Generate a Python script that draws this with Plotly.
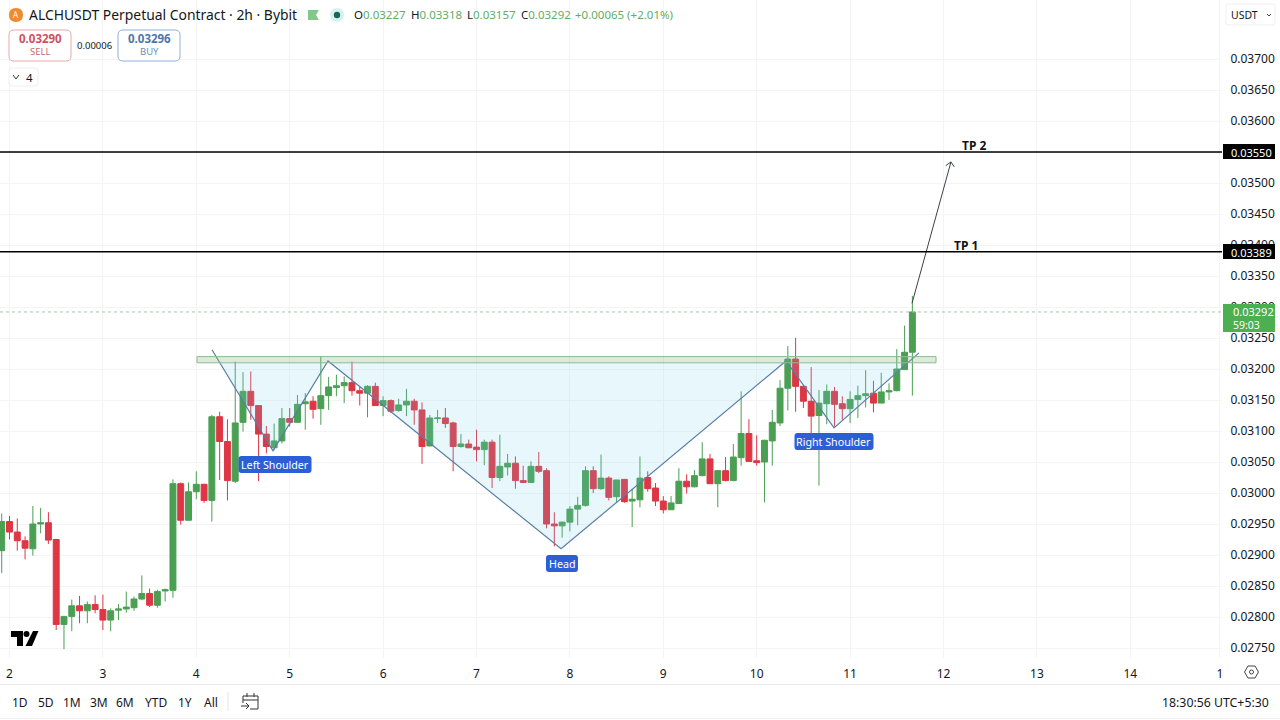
import plotly.graph_objects as go

# ---------- data (prices in exchange ticks of 0.00001 USDT) ----------
TICK = 0.00001
first_candle_day = 1 + 22 / 24
candle_step_days = 2 / 24
opens = [2907,2954,2937,2923,2910,2950,2952,2925,2788,2801,
         2818,2810,2820,2812,2795,2811,2813,2815,2829,2838,
         2819,2842,2843,3015,2956,3002,3014,2988,3123,3083,
         3019,3114,3164,3141,3095,3073,3084,3120,3114,3144,
         3148,3136,3157,3170,3173,3178,3165,3161,3172,3141,
         3149,3133,3142,3148,3134,3076,3120,3121,3113,3075,
         3079,3074,3070,3082,3025,3042,3048,3020,3017,3043,
         3036,2950,2947,2953,2974,2980,3036,3007,3024,2994,
         3022,2987,2989,3025,3008,2987,2973,2983,3019,3010,
         3028,3055,3015,3036,3020,3057,3096,3052,3050,3084,
         3113,3169,3216,3172,3148,3125,3144,3164,3144,3136,
         3151,3157,3161,3145,3163,3165,3199,3227]
highs = [2967,2963,2959,2930,2979,2976,2969,2926,2801,2828,
         2834,2825,2835,2836,2814,2821,2841,2833,2867,2846,
         2844,2846,3022,3017,3017,3035,3015,3126,3131,3119,
         3212,3195,3196,3141,3108,3112,3137,3137,3158,3161,
         3156,3220,3187,3191,3188,3212,3172,3174,3178,3156,
         3151,3152,3168,3152,3146,3126,3134,3137,3115,3095,
         3086,3102,3086,3086,3094,3063,3059,3044,3051,3066,
         3040,2969,2954,2979,2994,3043,3043,3062,3027,3021,
         3022,3007,3059,3035,3016,2995,2995,3040,3030,3037,
         3082,3063,3037,3058,3079,3164,3119,3093,3086,3134,
         3182,3237,3250,3174,3203,3166,3175,3171,3156,3164,
         3173,3198,3181,3194,3177,3232,3270,3318]
lows = [2871,2925,2907,2893,2899,2935,2918,2779,2748,2777,
        2790,2790,2806,2779,2777,2795,2807,2810,2827,2816,
        2815,2825,2831,2949,2956,2990,2984,2954,3021,2988,
        3016,3099,3118,3019,3064,3069,3080,3107,3113,3102,
        3120,3110,3134,3156,3145,3157,3141,3122,3141,3124,
        3129,3131,3124,3110,3047,3075,3113,3105,3035,3073,
        3072,3051,3045,3008,3019,3028,3007,3016,3016,3032,
        2943,2914,2928,2938,2948,2978,3000,3005,2988,2984,
        2984,2945,2977,3002,2979,2967,2973,2983,2999,3009,
        3027,3015,2977,3019,3019,3044,3051,3044,2985,3044,
        3108,3133,3131,3137,3096,3012,3111,3107,3118,3113,
        3121,3138,3130,3145,3150,3164,3199,3157]
closes = [2954,2937,2923,2911,2950,2952,2924,2788,2801,2818,
          2810,2820,2812,2795,2810,2813,2816,2829,2838,2819,
          2841,2844,3015,2956,3002,3014,2988,3123,3083,3020,
          3113,3164,3141,3095,3075,3084,3120,3114,3143,3147,
          3135,3157,3171,3173,3178,3165,3161,3172,3141,3149,
          3132,3142,3148,3134,3075,3121,3121,3112,3075,3079,
          3073,3070,3082,3025,3043,3048,3020,3017,3043,3035,
          2950,2947,2953,2974,2980,3036,3007,3024,2993,3021,
          2986,2990,3024,3007,2987,2973,2984,3019,3010,3028,
          3055,3015,3036,3020,3058,3096,3051,3049,3085,3114,
          3169,3216,3172,3148,3124,3145,3164,3143,3136,3151,
          3157,3160,3145,3163,3165,3200,3227,3292]

day_ticks = [2,3,4,5,6,7,8,9,10,11,12,13,14,14.96]
day_labels = ["2","3","4","5","6","7","8","9","10","11","12","13","14","1"]
price_ticks = [2750,2800,2850,2900,2950,3000,3050,3100,3150,3200,3250,3300,3350,3400,3450,3500,3550,3600,3650,3700]

hs_days = [4.168,4.821,5.410,7.905,10.314,10.828,11.737]
hs_prices = [3231,3068,3213,2910,3213,3105,3226]
fill_days = [4.25,4.821,5.410,7.905,10.314,10.828,11.63]
fill_prices = [3210,3068,3213,2910,3213,3105,3210]
neck_days = [4.007,11.92]
neck_prices = [3210,3220]
tp1, tp2, last_price = 3389, 3550, 3292
arrow_days = [11.663,12.08]
arrow_prices = [3306,3534]
arrow_wing_a = [12.024,12.08,12.115]
arrow_wing_b = [3528,3534,3526]

# ---------- frame ----------
W, H = 1280, 720
PLOT_W, PLOT_H = 1222, 658
FONT = "Noto Sans"
INK = "#131722"
GREEN = "#4a9f53"
RED = "#dd3644"
GRID = "#f4f4f5"

def px(x): return x / PLOT_W
def py(y): return (PLOT_H - y) / PLOT_H
def pt(x, y): return f"{px(x):.5f},{py(y):.5f}"

def rr(x0, y0, x1, y1, r):
    return (f"M{pt(x0+r,y0)} L{pt(x1-r,y0)} Q{pt(x1,y0)} {pt(x1,y0+r)} L{pt(x1,y1-r)} Q{pt(x1,y1)} {pt(x1-r,y1)} "
            f"L{pt(x0+r,y1)} Q{pt(x0,y1)} {pt(x0,y1-r)} L{pt(x0,y0+r)} Q{pt(x0,y0)} {pt(x0+r,y0)} Z")

def poly(points, close=True):
    s = "M" + " L".join(pt(a, b) for a, b in points)
    return s + (" Z" if close else "")

def circle(cx, cy, r):
    return (f"M{pt(cx-r,cy)} Q{pt(cx-r,cy-r)} {pt(cx,cy-r)} Q{pt(cx+r,cy-r)} {pt(cx+r,cy)} "
            f"Q{pt(cx+r,cy+r)} {pt(cx,cy+r)} Q{pt(cx-r,cy+r)} {pt(cx-r,cy)} Z")

shapes, annos = [], []

def sh(path, fill="rgba(0,0,0,0)", line="rgba(0,0,0,0)", lw=1):
    shapes.append(dict(type="path", path=path, xref="paper", yref="paper", fillcolor=fill,
                       line=dict(color=line, width=lw), layer="above"))

def tx(x, y, text, size=12, color=INK, anchor="center", bold=False, font=FONT):
    annos.append(dict(x=px(x), y=py(y), xref="paper", yref="paper", text=f"<b>{text}</b>" if bold else text,
                      showarrow=False, xanchor=anchor, yanchor="middle", borderpad=0,
                      font=dict(family=font, size=size, color=color)))

# ---------- traces ----------
x_days = [first_candle_day + i * candle_step_days for i in range(len(opens))]
fig = go.Figure()
fig.add_trace(go.Candlestick(
    x=x_days,
    open=[v * TICK for v in opens], high=[v * TICK for v in highs],
    low=[v * TICK for v in lows], close=[v * TICK for v in closes],
    increasing=dict(line=dict(color=GREEN, width=1), fillcolor=GREEN),
    decreasing=dict(line=dict(color=RED, width=1), fillcolor=RED),
    hoverinfo="skip", showlegend=False))
fig.add_trace(go.Scatter(x=fill_days, y=[v * TICK for v in fill_prices], mode="lines", fill="toself",
                         fillcolor="rgba(120,205,240,0.17)", line=dict(width=0), hoverinfo="skip", showlegend=False))
fig.add_trace(go.Scatter(x=hs_days, y=[v * TICK for v in hs_prices], mode="lines",
                         line=dict(color="#5a7ea6", width=1.2), hoverinfo="skip", showlegend=False))
for xs, ys in ((arrow_days, arrow_prices), (arrow_wing_a, arrow_wing_b)):
    fig.add_trace(go.Scatter(x=xs, y=[v * TICK for v in ys], mode="lines",
                             line=dict(color="#3c4048", width=1), hoverinfo="skip", showlegend=False))

# neckline band and horizontal levels
shapes.append(dict(type="rect", xref="x", yref="y", x0=neck_days[0], x1=neck_days[1],
                   y0=neck_prices[0] * TICK, y1=neck_prices[1] * TICK,
                   fillcolor="rgba(130,180,130,0.28)", line=dict(color="#8fbb8f", width=1), layer="above"))
for level in (tp1, tp2):
    shapes.append(dict(type="line", xref="paper", yref="y", x0=0, x1=1, y0=level * TICK, y1=level * TICK,
                       line=dict(color="#000000", width=1.5), layer="above"))
shapes.append(dict(type="line", xref="paper", yref="y", x0=0, x1=1, y0=last_price * TICK, y1=last_price * TICK,
                   line=dict(color="#a9c4ab", width=1, dash="dot"), layer="above"))

# drawing labels
for cx, cy, w, label in ((275, 464.5, 73, "Left Shoulder"), (834, 441.5, 79, "Right Shoulder"), (562, 563.5, 32, "Head")):
    sh(rr(cx - w / 2, cy - 8.5, cx + w / 2, cy + 8.5, 3), fill="#2c5fd6")
    tx(cx, cy, label, size=10.7, color="#ffffff")
tx(973.5, 145.5, "TP 2", size=12, color="#111111", bold=True)
tx(965.5, 246, "TP 1", size=12, color="#111111", bold=True)

# price axis tags
sh(poly([(1223, 144), (1275, 144), (1275, 159), (1223, 159)]), fill="#000000")
tx(1251, 152, "0.03550", size=11, color="#ffffff")
sh(poly([(1223, 244), (1275, 244), (1275, 259), (1223, 259)]), fill="#000000")
tx(1251, 252, "0.03389", size=11, color="#ffffff")
sh(poly([(1223, 304), (1275, 304), (1275, 332), (1223, 332)]), fill="#4caf50")
tx(1232, 312, "0.03292", size=11, color="#ffffff", anchor="left")
tx(1232, 324.5, "59:03", size=10.5, color="#ffffff", anchor="left")

# header
sh(circle(16, 15, 7), fill="#ef8a2e")
tx(16, 15, "A", size=8, color="#ffffff")
tx(28, 15, "ALCHUSDT Perpetual Contract · 2h · Bybit", size=13.9, anchor="left")
sh(poly([(308, 10), (319, 10), (316, 15), (319, 20), (308, 20)]), fill="#7fc98a")
sh(circle(337, 15, 7), fill="#dcf1ee")
sh(circle(337, 15, 3.2), fill="#136b5a")
tg = "#5fae68"
ohlc = ((353, "O", "0.03227"), (410, "H", "0.03318"), (466, "L", "0.03157"), (520, "C", "0.03292"))
for x0, k, v in ohlc:
    tx(x0, 15, f'{k}<span style="color:{tg}">{v}</span>', size=11.5, anchor="left")
tx(574, 15, "+0.00065 (+2.01%)", size=11.5, color=tg, anchor="left")

sh(rr(9, 30, 71, 61, 5), fill="#ffffff", line="#e3a9ad")
tx(40, 38, "0.03290", size=11.5, color="#d2505c", bold=True)
tx(40, 51, "SELL", size=9.5, color="#c96a72")
tx(94, 45, "0.00006", size=9.5)
sh(rr(118, 30, 180, 61, 5), fill="#ffffff", line="#8fb2d6")
tx(149, 38, "0.03296", size=11.5, color="#4d77ab", bold=True)
tx(149, 51, "BUY", size=9.5, color="#6e8fb5")
sh(rr(9, 68, 38, 86, 3), fill="#ffffff", line="#eeeeee")
sh(poly([(13, 75), (16, 79), (19, 75)], close=False), line="#333333")
tx(30, 77, "4", size=11.5)

# currency button
sh(rr(1226, 4, 1275, 25, 2), fill="#ffffff", line="#f0f0f0")
tx(1230, 15, "USDT", size=10.5, anchor="left")
sh(poly([(1267, 14), (1269, 16), (1271, 14)], close=False), line="#444444")

# tradingview mark
sh("M" + " L".join(pt(a, b) for a, b in [(11, 631), (23, 631), (23, 646), (17, 646), (17, 637), (11, 637)]) + " Z", fill="#000000")
sh(circle(26.5, 634, 3), fill="#000000")
sh(poly([(33, 631), (38.5, 631), (32, 646), (25.5, 646)]), fill="#000000")

# settings icon
sh(poly([(1244.5, 672), (1248, 666), (1255, 666), (1258.5, 672), (1255, 678), (1248, 678)]), line="#444444")
sh(circle(1251.5, 672, 2), line="#444444")

# bottom toolbar
sh(poly([(0, 684.5), (1280, 684.5)], close=False), line="#e9e9ea")
sh(poly([(0, 718.5), (1280, 718.5)], close=False), line="#f0f0f0")
sh(poly([(228, 692), (228, 711)], close=False), line="#e4e4e4")
for cx, label in ((20, "1D"), (46, "5D"), (72, "1M"), (99, "3M"), (125, "6M"), (156, "YTD"), (185, "1Y"), (211, "All")):
    tx(cx, 702, label, size=12)
sh(poly([(243, 703), (243, 696), (258, 696), (258, 709), (250, 709)], close=False), line="#333333")
sh(poly([(243, 700), (258, 700)], close=False), line="#333333")
sh(poly([(247, 693), (247, 697)], close=False), line="#333333")
sh(poly([(254, 693), (254, 697)], close=False), line="#333333")
sh(poly([(241, 706), (249, 706)], close=False), line="#333333")
sh(poly([(246, 703), (249, 706), (246, 709)], close=False), line="#333333")
tx(1270, 702, "18:30:56 UTC+5:30", size=12.3, anchor="right")

tick_text = ["" if v == tp2 else f"{v * TICK:.5f}" for v in price_ticks]

fig.update_layout(
    width=W, height=H, autosize=False,
    margin=dict(l=0, r=W - PLOT_W, t=0, b=H - PLOT_H, pad=0),
    paper_bgcolor="#ffffff", plot_bgcolor="#ffffff",
    showlegend=False, boxgap=0.24, boxgroupgap=0.0, dragmode=False,
    font=dict(family=FONT, size=12, color=INK),
    shapes=shapes, annotations=annos,
    xaxis=dict(range=[2 - 9.5 / 93.4, 2 + 1212.5 / 93.4], tickmode="array", tickvals=day_ticks, ticktext=day_labels,
               showgrid=True, gridcolor=GRID, gridwidth=1, zeroline=False, showline=False,
               ticks="outside", ticklen=5, tickcolor="rgba(0,0,0,0)", tickfont=dict(size=12, color=INK),
               rangeslider=dict(visible=False), fixedrange=True),
    yaxis=dict(side="right", tickmode="array",
               tickvals=[v * TICK for v in price_ticks], ticktext=tick_text,
               showgrid=True, gridcolor=GRID, gridwidth=1, zeroline=False, showline=False,
               ticks="outside", ticklen=5, tickcolor="rgba(0,0,0,0)", tickfont=dict(size=12, color=INK),
               autorange=False, range=[0.037 - 599 / 62000, 0.037 + 59 / 62000], fixedrange=True),
)

fig.write_html("out.html", config=dict(displayModeBar=False),
               post_script="document.body.style.margin='0';")
